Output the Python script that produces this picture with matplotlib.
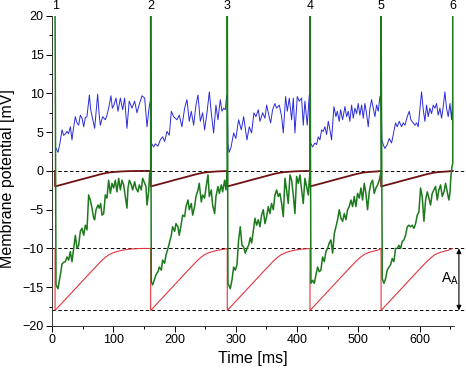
import numpy as np
import matplotlib
matplotlib.use("Agg")
import matplotlib.pyplot as plt
from matplotlib.ticker import MultipleLocator

plt.rcParams['font.family'] = ['Liberation Sans', 'DejaVu Sans']
plt.rcParams['mathtext.fontset'] = 'custom'
plt.rcParams['mathtext.rm'] = 'Liberation Sans'

# ---- data ----
spike_times = [5, 161, 286, 421, 537, 654]
spike_labels = ['1', '2', '3', '4', '5', '6']
spike_peak = 20
ref_levels = [0, -10, -18]

# blue trace (time ms, mV)
blue_trace = [
    (5.4, 3.1), (9.8, 2.4), (13, 3.6), (16.3, 5.3), (19, 4.6), (21, 4.7), (24.5, 5.1), (27, 4.8),
    (30, 5.7), (32.6, 4.0), (35, 5.5), (38, 7.0), (40.8, 6.2), (43.5, 5.9), (46.2, 7.2), (49, 6.8),
    (51.7, 5.7), (54.4, 6.9), (57, 7.0), (61, 9.8), (63, 8.0), (65, 7.2), (69.6, 5.5), (74.5, 9.9),
    (76.7, 7.5), (78.8, 5.9), (82.7, 7.0), (87, 6.6), (89.7, 7.2), (92.4, 8.1), (96.2, 9.7), (98.4, 8.1),
    (100.6, 8.4), (104.4, 9.4), (107.7, 7.7), (111.5, 9.4), (115.3, 7.9), (118.5, 9.4), (122.3, 5.5),
    (126, 9.0), (130.5, 8.1), (134.8, 9.0), (138.7, 7.5), (142.5, 8.6), (146.8, 9.7), (151.2, 9.4),
    (155, 5.7), (158.8, 8.4), (161, 9.2),
    (162, 3.6), (165.9, 3.1), (168.6, 3.5), (172.9, 3.2), (176.7, 4.0), (180.5, 4.4), (183.8, 3.8),
    (187.6, 5.1), (191.4, 4.6), (194.7, 7.7), (198.5, 7.0), (203.9, 6.6), (207.7, 7.2), (212, 5.7),
    (216.4, 8.1), (220.2, 9.2), (224, 6.4), (227.3, 7.7), (231.1, 5.9), (234.9, 8.5), (238.2, 9.8),
    (242, 6.4), (245.8, 7.5), (249, 5.3), (252.9, 7.5), (256.7, 10.2), (259.9, 7.5), (263.7, 4.9),
    (267.5, 8.5), (270.8, 6.6), (274.6, 9.2), (277.3, 7.7), (280, 8.1), (282.8, 7.9), (284.9, 9.6),
    (286, 9.8),
    (287, 3.5), (289, 2.4), (292, 3.0), (296.4, 4.9), (300, 4.2), (304.5, 6.6), (308.9, 5.3),
    (312.7, 7.0), (318.1, 4.0), (321.9, 5.7), (325.7, 4.9), (329.5, 7.5), (332.8, 7.0), (336.6, 7.9),
    (339.3, 6.4), (343.7, 7.5), (347.5, 6.8), (350.2, 8.5), (352.9, 7.5), (356.7, 6.2), (360, 7.9),
    (363.8, 8.7), (366.5, 8.1), (370.9, 8.5), (374.7, 7.0), (377.4, 4.9), (381.2, 9.6), (383.9, 7.7),
    (387.2, 9.4), (391, 6.6), (393.7, 9.4), (396.4, 4.9), (400.2, 9.6), (403.5, 9.0), (407.3, 9.4),
    (410, 5.9), (412.7, 9.0), (416.5, 5.9), (419.8, 9.8), (421, 9.8),
    (422, 3.6), (425.2, 3.1), (429, 3.6), (431.8, 3.4), (434.5, 4.4), (437.2, 4.0), (439.9, 5.3),
    (442.6, 5.1), (445.3, 5.7), (448.1, 4.7), (450.8, 6.4), (453.5, 5.3), (456.2, 4.0), (460, 8.3),
    (463.3, 7.0), (465.5, 7.7), (468.7, 6.4), (470.9, 7.9), (474.2, 6.6), (478, 8.3), (480.7, 7.0),
    (483.4, 7.7), (486.1, 6.4), (488.9, 8.5), (491.6, 6.8), (494.3, 8.1), (497, 7.4), (499.7, 8.7),
    (502.4, 7.2), (505.2, 8.5), (507.9, 6.8), (510.6, 8.7), (513.3, 7.4), (516, 5.7), (518.8, 8.1),
    (521.5, 9.2), (524.2, 8.1), (526.9, 7.0), (529.6, 8.5), (532.4, 7.7), (535.1, 9.6), (536.7, 9.8),
    (538.3, 4.0), (540.5, 3.4), (543.2, 2.9), (547, 3.4), (550.3, 4.2), (554.1, 3.6), (556.8, 4.7),
    (560.6, 6.2), (563.3, 5.7), (566.6, 6.4), (570.4, 5.7), (573.1, 6.2), (575.9, 5.9), (579.7, 7.0),
    (582.9, 7.7), (585.6, 6.6), (589.4, 6.2), (592.2, 5.9), (594.9, 6.2), (597.6, 5.7), (600.3, 7.9),
    (603, 10.2), (605.8, 7.9), (608.5, 6.4), (611.2, 8.5), (613.9, 7.0), (616.6, 8.1), (619.4, 7.4),
    (622.1, 8.5), (624.8, 8.1), (627.5, 8.7), (630.2, 7.2), (633, 8.1), (635.7, 6.8), (638.4, 8.3),
    (641.1, 10.2), (643.8, 8.1), (646.5, 7.0), (649.3, 8.7), (652, 6.6), (653.6, 9.4),
]

# green trace between spikes (time ms, mV)
green_segments = [
    [(6.5, -14.7), (9.8, -15.2), (12, -14.1), (14.1, -13.2), (16.3, -12.0), (19, -11.8), (21.8, -11.7),
     (24.5, -11.1), (27.2, -11.5), (29.9, -10.4), (32.6, -11.7), (35.3, -10.0), (38.1, -8.3),
     (40.8, -10.0), (43.5, -9.6), (46.2, -7.8), (48.9, -7.4), (51.7, -8.3), (54.4, -7.0), (57.1, -7.6),
     (59.8, -3.1), (62.5, -3.75), (65.3, -4.8), (68, -6.1), (69.6, -6.3), (71.8, -5.0), (75, -4.4),
     (77.2, -4.8), (79.4, -4.2), (81.6, -5.7), (84.3, -5.5), (87, -3.1), (89.7, -3.5), (92.4, -1.2),
     (95.2, -2.9), (97.9, -1.6), (100.6, -2.2), (103.3, -1.2), (106, -2.7), (108.8, -0.95),
     (111.5, -2.45), (114.2, -1.2), (116.9, -1.8), (119.6, -3.3), (122.3, -4.8), (124, -2.2),
     (126.2, -1.2), (129.4, -1.8), (131.6, -2.45), (134.9, -1.4), (137, -2.2), (140.3, -2.7),
     (142.5, -1.8), (145.7, -2.45), (147.9, -0.95), (151.2, -1.6), (153.3, -2.0), (155, -4.4),
     (157.7, -2.7), (159.3, -0.3), (161, -0.1)],
    [(162, -14.3), (164.2, -14.7), (167.5, -13.9), (169.7, -13.4), (172.9, -13.0), (175.1, -12.4),
     (178.4, -12.8), (180.5, -11.5), (183.8, -11.9), (186, -10.85), (189.2, -10.0), (191.4, -9.3),
     (194.7, -8.3), (196.8, -7.2), (200.1, -7.8), (202.3, -6.8), (205.5, -7.2), (207.7, -8.3),
     (211, -6.8), (213.2, -5.7), (216.4, -5.9), (218.6, -4.6), (221.9, -3.75), (224, -5.0),
     (227.3, -4.2), (229.5, -5.7), (232.7, -4.6), (234.9, -3.3), (238.2, -2.45), (240.3, -1.6),
     (243.6, -4.0), (245.8, -3.1), (249, -3.5), (251.2, -2.2), (254.5, -0.5), (256.7, -3.3),
     (259.9, -2.45), (262.1, -4.4), (265.4, -5.5), (267.5, -3.3), (270.8, -2.0), (273, -2.9),
     (276.2, -1.8), (278.4, -2.7), (281.7, -1.2), (283.9, -2.45), (285.5, -0.3), (286, -0.1)],
    [(287.1, -14.5), (290.9, -15.2), (293.6, -14.1), (296.4, -12.4), (299.1, -12.8), (301.8, -12.1),
     (304.5, -8.9), (307.2, -7.2), (310, -9.6), (312.7, -9.8), (315.4, -10.6), (318.1, -10.0),
     (320.8, -9.6), (323.5, -8.6), (325.7, -9.3), (328.4, -7.8), (331.2, -6.1), (333.9, -7.0),
     (336.6, -6.3), (339.3, -7.2), (342, -5.7), (344.8, -5.0), (347.5, -6.8), (350.2, -5.9),
     (352.9, -4.6), (355.6, -5.5), (358.3, -4.2), (361.1, -5.0), (363.8, -3.1), (366.5, -2.45),
     (369.2, -3.3), (371.9, -2.9), (374.7, -4.2), (377.4, -5.9), (380.1, -0.95), (382.8, -2.45),
     (385.5, -4.2), (388.3, -0.5), (391, -1.2), (393.7, -3.1), (396.4, -5.5), (399.1, -0.7),
     (401.8, -1.6), (404.6, -0.5), (407.3, -2.45), (410, -4.2), (412.7, -0.95), (415.4, -2.0),
     (418.2, -3.1), (419.8, -1.2), (421, -0.1)],
    [(422.5, -14.5), (425.2, -14.1), (428, -14.5), (430.7, -13.4), (433.4, -12.4), (436.1, -13.0),
     (438.8, -12.8), (441.5, -11.1), (444.3, -11.7), (447, -10.4), (449.7, -10.0), (452.4, -9.3),
     (455.1, -8.9), (457.9, -10.6), (460.6, -8.1), (463.3, -7.2), (466, -6.3), (468.7, -5.0),
     (471.5, -6.1), (474.2, -6.5), (476.9, -5.5), (479.6, -6.3), (482.3, -5.0), (485, -4.6),
     (487.8, -3.75), (490.5, -4.6), (493.2, -3.3), (495.9, -4.6), (498.6, -2.9), (501.4, -3.5),
     (504.1, -2.2), (506.8, -3.75), (509.5, -1.6), (512.2, -2.9), (514.9, -5.0), (517.7, -2.7),
     (520.4, -1.6), (523.1, -1.2), (525.8, -2.9), (528.5, -2.2), (531.3, -1.8), (534, -1.2),
     (537, -0.1)],
    [(538.9, -13.9), (541.6, -14.5), (544.3, -13.9), (547, -12.8), (549.8, -12.4), (552.5, -12.1),
     (555.2, -11.3), (557.9, -11.7), (560.6, -10.0), (563.4, -10.0), (566.1, -9.6), (568.8, -10.0),
     (571.5, -9.1), (574.2, -8.9), (576.9, -8.3), (579.7, -7.2), (582.4, -7.0), (585.1, -7.2),
     (587.8, -7.0), (590.5, -7.4), (593.3, -6.8), (596, -5.7), (598.7, -5.3), (601.4, -2.2),
     (604.1, -3.3), (606.9, -6.5), (609.6, -3.75), (612.3, -2.7), (615, -3.5), (617.7, -4.4),
     (620.4, -2.9), (623.2, -2.45), (625.9, -2.0), (628.6, -3.75), (631.3, -2.45), (634, -1.8),
     (636.8, -3.3), (639.5, -2.7), (642.2, -1.6), (644.9, -2.7), (647.6, -3.75), (649.3, -2.9),
     (650.9, -0.7), (652.5, 0.5), (654, 1.0)],
]

# red and dark red recovery after each spike (ms after spike, mV)
recov_dt = [0, 20, 40, 60, 75, 82, 88, 95, 102, 110, 120, 130, 145, 160]
red_v = [-18, -16.3, -14.6, -12.9, -11.65, -11.15, -10.8, -10.55, -10.38, -10.22, -10.1, -10.04, -10.0, -10.0]
brown_v = [-2, -1.58, -1.15, -0.73, -0.41, -0.29, -0.2, -0.14, -0.1, -0.055, -0.025, -0.01, 0, 0]

# ---- build line arrays ----
def recovery_line(vals):
    ts, vs = [], []
    for i, t0 in enumerate(spike_times[:-1]):
        seg_len = spike_times[i + 1] - t0
        ts.append(t0)
        vs.append(vals[-1])
        for dt, v in zip(recov_dt, vals):
            if dt < seg_len:
                ts.append(t0 + dt)
                vs.append(v)
    ts.append(spike_times[-1])
    vs.append(vals[-1])
    return ts, vs

green_t, green_v = [spike_times[0]], [spike_peak]
for i, seg in enumerate(green_segments):
    for t, v in seg:
        green_t.append(t)
        green_v.append(v)
    green_t.append(spike_times[i + 1])
    green_v.append(spike_peak)

blue_t, blue_vv = np.array(blue_trace).T

fig = plt.figure(figsize=(4.66, 3.70), dpi=100)
ax = fig.add_axes([0.1116, 0.119, 0.8627, 0.838])

for lev in ref_levels:
    ax.axhline(lev, xmin=0, xmax=1.027, color='black', lw=0.7, ls=(0, (3.5, 2.5)), clip_on=False, zorder=1)

rt, rv = recovery_line(red_v)
bt, bv = recovery_line(brown_v)
ax.plot(rt, rv, color='#e2363c', lw=0.8, zorder=2)
ax.plot(bt, bv, color='#6e1212', lw=1.3, zorder=2)
ax.plot(blue_t, blue_vv, color='#2b2bd8', lw=0.7, zorder=3)
ax.plot(green_t, green_v, color='#1c7a1c', lw=1.1, zorder=4)

for t, lab in zip(spike_times, spike_labels):
    ax.annotate(lab, xy=(t, 1.012), xycoords=('data', 'axes fraction'),
                ha='center', va='bottom', fontsize=9, annotation_clip=False)

ax.annotate('', xy=(664, ref_levels[1]), xytext=(664, ref_levels[2]),
            arrowprops=dict(arrowstyle='<|-|>', color='black', lw=0.8, mutation_scale=7,
                            shrinkA=0, shrinkB=0), annotation_clip=False)
ax.text(634, -13.9, r'A$_\mathrm{A}$', fontsize=10, ha='left', va='center')

ax.set_xlim(0, 656)
ax.set_ylim(-20, 20)
ax.xaxis.set_major_locator(MultipleLocator(100))
ax.xaxis.set_minor_locator(MultipleLocator(50))
ax.yaxis.set_major_locator(MultipleLocator(5))
ax.yaxis.set_minor_locator(MultipleLocator(2.5))
ax.tick_params(which='major', direction='out', length=4, width=0.7, labelsize=9, pad=2)
ax.tick_params(which='minor', direction='out', length=2, width=0.7)
for s in ['top', 'right']:
    ax.spines[s].set_visible(False)
for s in ['left', 'bottom']:
    ax.spines[s].set_linewidth(0.7)
    ax.spines[s].set_color('#333333')

ax.set_xlabel('Time [ms]', fontsize=11.5)
ax.set_ylabel('Membrane potential [mV]', fontsize=11.5)
ax.xaxis.set_label_coords(0.5, -0.082)
ax.yaxis.get_label().set_va('bottom')
ax.yaxis.set_label_coords(-0.092, 0.475)

fig.savefig('out.png', dpi=100)
